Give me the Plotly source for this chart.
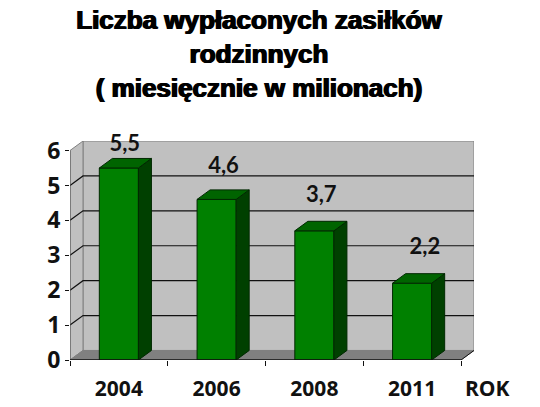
import plotly.graph_objects as go

years = ["2004", "2006", "2008", "2011"]
values = [5.5, 4.6, 3.7, 2.2]
labels = ["5,5", "4,6", "3,7", "2,2"]
label_x = [0.06, 1.07, 2.07, 3.13]
label_y = [6.15, 5.51, 4.68, 3.19]
y_ticks = [0, 1, 2, 3, 4, 5, 6]

# fake 3d depth, in axis units
dx = 0.133
dy = 0.273
bar_w = 0.4
x0 = -0.5
x1 = 3.5
y_top = 6

def poly(pts, fill, line="#808080", width=1):
    path = "M " + " L ".join(f"{a},{b}" for a, b in pts) + " Z"
    return dict(type="path", path=path, fillcolor=fill, layer="below",
                line=dict(color=line, width=width), xref="x", yref="y")

shapes = [
    poly([(x0 + dx, dy), (x1 + dx, dy), (x1 + dx, y_top + dy), (x0 + dx, y_top + dy)], "#c0c0c0"),
    poly([(x0, 0), (x0 + dx, dy), (x0 + dx, y_top + dy), (x0, y_top)], "#c0c0c0"),
    poly([(x0, 0), (x1, 0), (x1 + dx, dy), (x0 + dx, dy)], "#808080"),
]
for t in y_ticks[1:-1]:
    shapes.append(dict(type="path", layer="below", xref="x", yref="y",
                       path=f"M {x0},{t} L {x0 + dx},{t + dy} L {x1 + dx},{t + dy}",
                       line=dict(color="#111111", width=1.2)))
# axis lines
shapes.append(dict(type="line", layer="below", xref="x", yref="y", x0=x0, x1=x0, y0=0, y1=y_top,
                   line=dict(color="#555555", width=1)))
shapes.append(dict(type="line", layer="above", xref="x", yref="y", x0=x0, x1=x1, y0=0, y1=0,
                   line=dict(color="#111111", width=1.5)))
shapes.append(dict(type="line", layer="above", xref="x", yref="y", x0=x1, x1=x1 + dx, y0=0, y1=dy,
                   line=dict(color="#111111", width=1)))

fig = go.Figure()
fig.add_trace(go.Bar(x=list(range(4)), y=values, width=bar_w, marker_color="#008000",
                     marker_line=dict(color="#002800", width=1)))

# side and top faces of the bars
for i, v in enumerate(values):
    r = i + bar_w / 2
    l = i - bar_w / 2
    fig.add_trace(go.Scatter(x=[r, r + dx, r + dx, r, r], y=[0, dy, v + dy, v, 0], mode="lines",
                             fill="toself", fillcolor="#004000", line=dict(color="#002800", width=1)))
    fig.add_trace(go.Scatter(x=[l, r, r + dx, l + dx, l], y=[v, v, v + dy, v + dy, v], mode="lines",
                             fill="toself", fillcolor="#006400", line=dict(color="#002800", width=1)))

fig.add_trace(go.Scatter(x=label_x, y=label_y, text=labels, mode="text", cliponaxis=False,
                         textposition="middle center",
                         textfont=dict(family="Lato", size=22, color="#111111", weight="bold")))

fig.add_annotation(text="ROK", xref="paper", yref="paper", x=(487 - 70) / 404, y=-28 / 219,
                   xanchor="center", yanchor="middle", showarrow=False,
                   font=dict(family="Open Sans", size=21, color="#111111", weight="bold"))

fig.update_layout(
    width=540, height=407,
    margin=dict(l=70, r=66, t=141, b=47),
    paper_bgcolor="white", plot_bgcolor="white",
    showlegend=False,
    shapes=shapes,
    title=dict(text="Liczba wypłaconych zasiłków<br>rodzinnych<br>( miesięcznie w milionach)",
               x=259 / 540, xanchor="center", y=1 - 29 / 407, yanchor="top",
               font=dict(family="Liberation Sans", size=26, color="black", weight="bold",
                         shadow="0.8px 0 0 black, -0.8px 0 0 black")),
    xaxis=dict(range=[x0, x1 + dx], tickvals=list(range(4)), ticktext=years, showgrid=False,
               zeroline=False, ticks="", ticklabelstandoff=14, automargin=False,
               tickfont=dict(family="Open Sans", size=21, color="#111111", weight="bold"),
               minor=dict(tickvals=[-0.5, 0.5, 1.5, 2.5, 3.5], ticks="outside", ticklen=5,
                          tickcolor="#111111", showgrid=False)),
    yaxis=dict(range=[0, y_top + dy], tickvals=y_ticks, showgrid=False, zeroline=False,
               ticks="outside", ticklen=4, tickcolor="#111111", automargin=False,
               tickfont=dict(family="Open Sans", size=23, color="#111111", weight="bold")),
)

# page default margin would push the chart 8px down and right
fig.write_html("out.html", config=dict(displayModeBar=False),
               post_script="document.body.style.margin='0'")
